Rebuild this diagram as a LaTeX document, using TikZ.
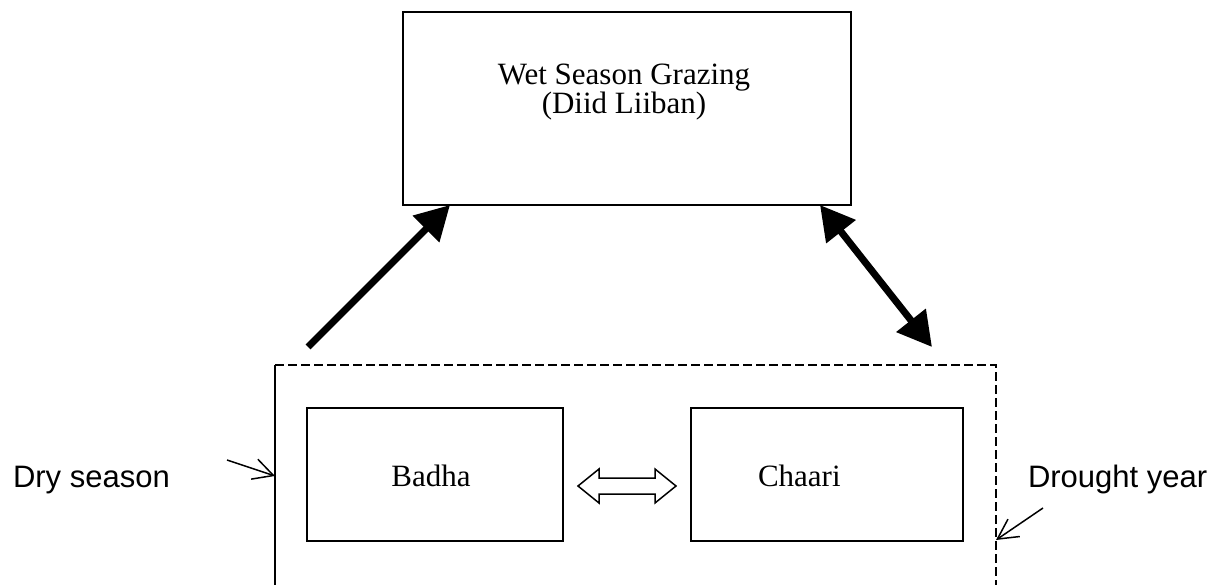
\documentclass[tikz,border=0pt]{standalone}
\usepackage{fontspec}
\setmainfont{Liberation Serif}
\newfontfamily\sidefont{Liberation Sans}
\usetikzlibrary{arrows.meta}
\begin{document}
\begin{tikzpicture}[x=1pt,y=-1pt,
  every node/.style={inner sep=0pt, outer sep=0pt},
  areabox/.style={draw, line width=1.8pt, minimum width=#1},
  areatext/.style={font=\fontsize{31}{30}\selectfont},
  sidetext/.style={font=\sidefont\fontsize{31}{30}\selectfont, anchor=base west},
  move/.style={line width=7pt, -{Triangle[length=34pt,width=36pt]}},
  twoway/.style={line width=7pt, {Triangle[length=34pt,width=36pt]}-{Triangle[length=34pt,width=36pt]}},
  pointer/.style={line width=1.5pt, -{Straight Barb[length=20pt,width=21pt,line width=1.5pt]}},
  swap/.style={draw, line width=1.5pt, line join=miter},
  edge dash/.style={line width=1.8pt, dash pattern=on 9pt off 4pt}
]
\useasboundingbox (0,0) rectangle (1226,585);

% wet season pasture
\node[areabox=448pt, minimum height=193pt] (wet) at (627,108.5) {};
\node[areatext, align=center, anchor=base] (wettext) at (624,114)
  {Wet Season Grazing\\[-1pt](Diid Liiban)};

% dry season / drought zone (runs off the lower edge)
\node[minimum width=721pt, minimum height=300pt] (zone) at (635.5,515) {};
\draw[line width=1.8pt] (zone.south west) -- (zone.north west);
\draw[edge dash] (zone.north west) -- (zone.north east) -- (zone.south east);

% the two dry season areas
\node[areabox=256pt, minimum height=133pt] (badha) at (435,474.5) {};
\node[areatext, anchor=base] (badhatext) at (431,486) {Badha};
\node[areabox=272pt, minimum height=133pt] (chaari) at (827,474.5) {};
\node[areatext, anchor=base west] (chaaritext) at (758,486) {Chaari};

% exchange between Badha and Chaari
\coordinate (swapL) at (578,486);
\draw[swap] (swapL) -- ++(21,-17) -- ++(0,9) -- ++(56,0) -- ++(0,-9)
  -- ++(21,17) -- ++(-21,17) -- ++(0,-9) -- ++(-56,0) -- ++(0,9) -- cycle;

% movements to and from the wet season pasture
\coordinate (drystart) at (308,347);
\draw[move] (drystart) -- ([xshift=47pt]wet.south west);
\draw[twoway] ([xshift=-31pt]wet.south east) -- (932,347);

% side labels with pointers
\node[sidetext] (dry) at (13,487) {Dry season};
\coordinate (drytail) at (227,460);
\draw[pointer] (drytail) -- ([yshift=-111pt]zone.north west);

\node[sidetext] (drought) at (1028,487) {Drought year};
\coordinate (droughttail) at (1043,508);
\draw[pointer] (droughttail) -- ([yshift=-175pt]zone.north east);
\end{tikzpicture}
\end{document}
